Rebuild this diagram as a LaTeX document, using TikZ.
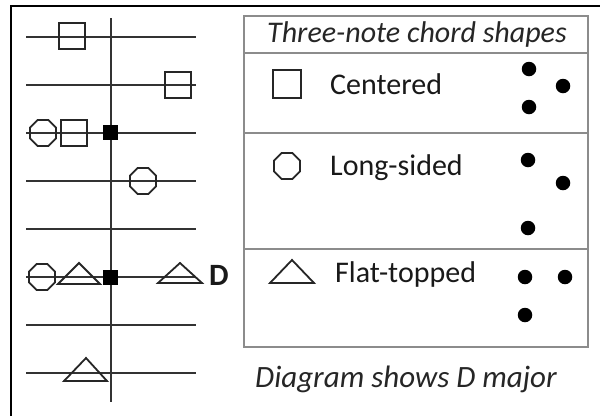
\documentclass[tikz,border=0pt]{standalone}
\usepackage{fontspec}
\setmainfont{Carlito}
\usetikzlibrary{shapes.geometric}
\begin{document}
\begin{tikzpicture}[x=1pt,y=-1pt,
  frame/.style={draw=black, line width=2pt},
  staff/.style={draw=black!80, line width=2pt},
  sq/.style={rectangle, draw=black!85, line width=1.8pt, minimum size=26pt, inner sep=0pt},
  oct/.style={regular polygon, regular polygon sides=8, draw=black!85, line width=1.8pt, minimum size=28pt, inner sep=0pt},
  tri/.style={draw=black!85, line width=1.8pt, line join=miter},
  fsq/.style={rectangle, fill=black, minimum size=15pt, inner sep=0pt},
  dot/.style={circle, fill=black, minimum size=14.5pt, inner sep=0pt},
  tbl/.style={draw=black!45, line width=2pt},
  lbl/.style={font=\fontsize{30}{30}\selectfont, text=black!90, inner sep=0pt, anchor=base west},
  ilbl/.style={font=\fontsize{30}{30}\selectfont\itshape, text=black!85, inner sep=0pt, anchor=base west},
  dlbl/.style={font=\fontsize{31}{31}\selectfont\bfseries, text=black!90, inner sep=0pt, anchor=base west}
]
\useasboundingbox (0,0) rectangle (600,416);
\fill[white] (0,0) rectangle (600,416);
% outer frame (left and top)
\draw[frame] (11,416) -- (11,6) -- (600,6);

% staff lines
\foreach \y in {37,85,133,181,229,277,325,373}
  \draw[staff] (26,\y) -- (196,\y);
\draw[staff] (111,18) -- (111,402);

% shapes on the staff
\node[sq] (s1) at (72,36) {};
\node[sq] (s2) at (178,85) {};
\node[sq] (s3) at (74,133) {};
\node[oct] (o1) at (43,133) {};
\node[fsq] (f1) at (110,132) {};
\node[oct] (o2) at (143,181) {};
\node[oct] (o3) at (42,277) {};
\node[fsq] (f2) at (110,277) {};
\draw[tri] (58,284) -- (79,263) -- (100,284) -- cycle;
\draw[tri] (158,283) -- (180,263) -- (202,283) -- cycle;
\draw[tri] (64,381) -- (86,358) -- (107,381) -- cycle;
\node[dlbl] (dlab) at (209,285) {D};

% table
\draw[tbl] (244,16) rectangle (588,347);
\draw[tbl] (244,53) -- (588,53);
\draw[tbl] (244,133) -- (588,133);
\draw[tbl] (244,249) -- (588,249);

\node[ilbl] (title) at (267,42) {Three-note chord shapes};

\node[sq, minimum size=28pt] (ls) at (287,84) {};
\node[lbl] (cen) at (330,94) {Centered};
\node[dot] (d1) at (529,69) {};
\node[dot] (d2) at (563,86) {};
\node[dot] (d3) at (529,107) {};

\node[oct] (lo) at (287,166) {};
\node[lbl] (long) at (330,175) {Long-sided};
\node[dot] (d4) at (528,160) {};
\node[dot] (d5) at (563,183) {};
\node[dot] (d6) at (528,228) {};

\draw[tri] (270,283) -- (292,260) -- (314,283) -- cycle;
\node[lbl] (flat) at (335,282) {Flat-topped};
\node[dot] (d7) at (525,277) {};
\node[dot] (d8) at (565,277) {};
\node[dot] (d9) at (525,315) {};

\node[ilbl, font=\fontsize{31}{31}\selectfont\itshape] (cap) at (255,387) {Diagram shows D major};
\end{tikzpicture}
\end{document}
